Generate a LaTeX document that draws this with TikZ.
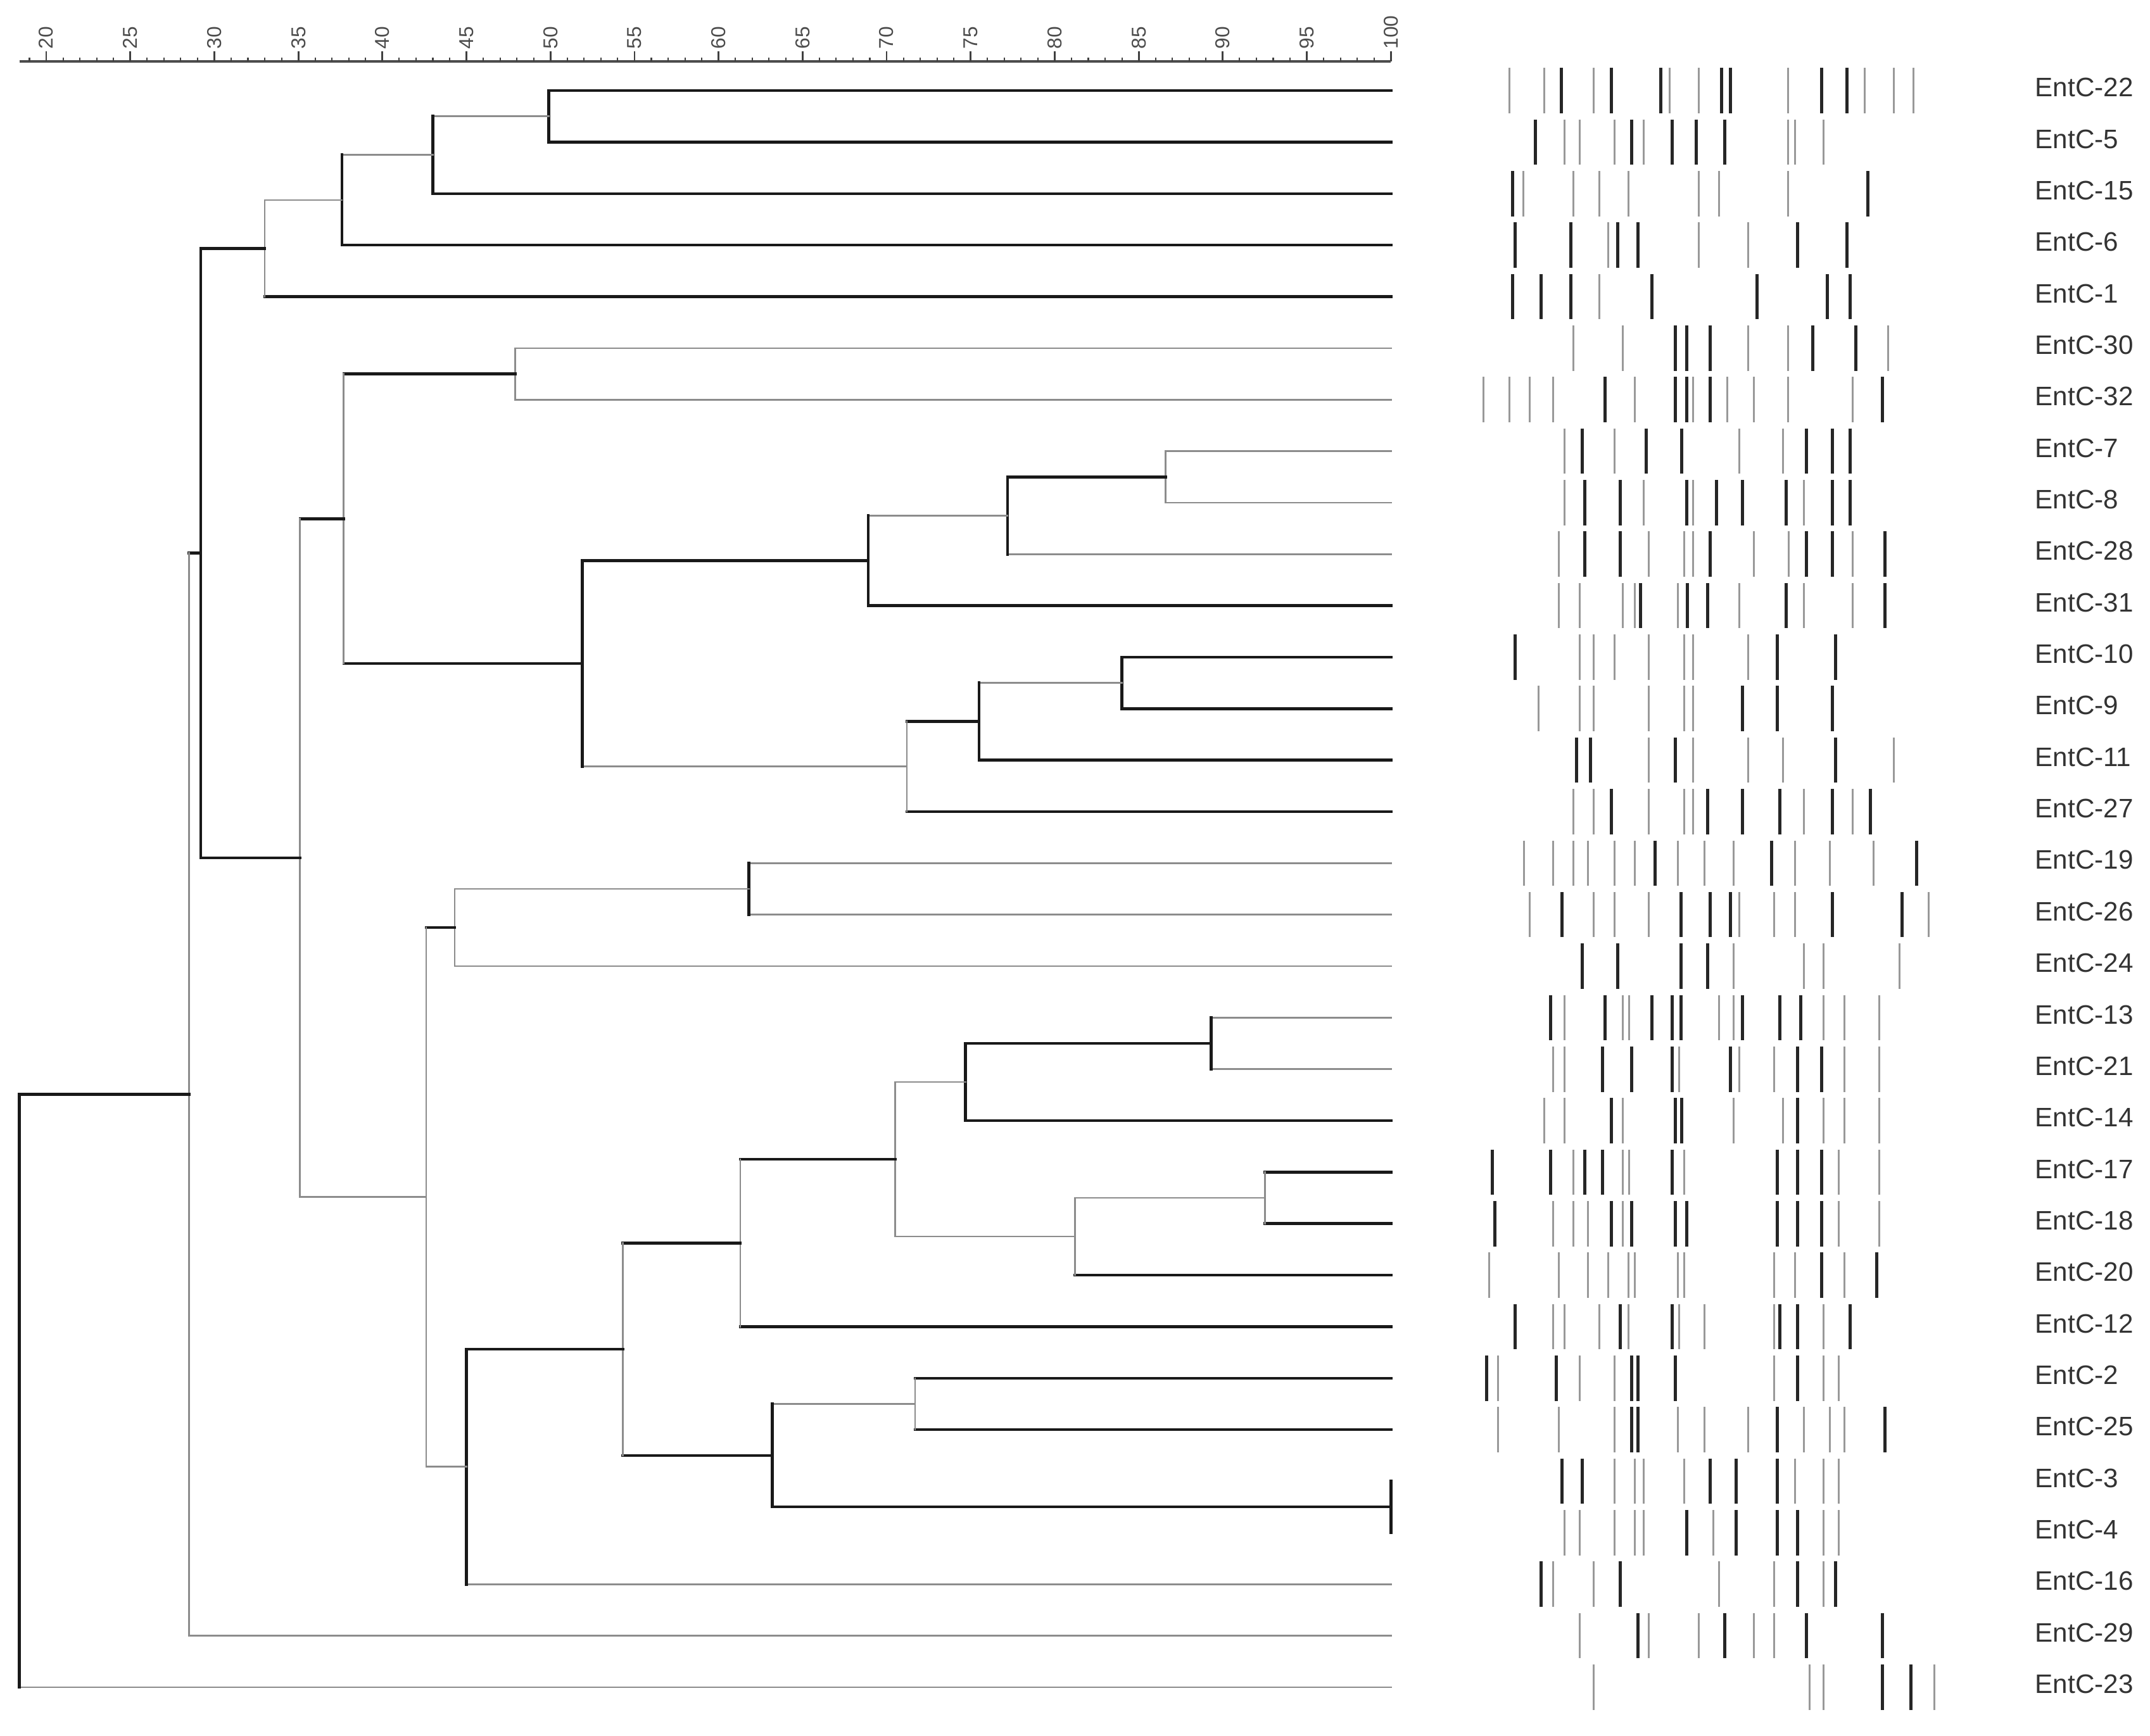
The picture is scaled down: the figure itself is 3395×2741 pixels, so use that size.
\documentclass[tikz,border=0pt]{standalone}
\usepackage{fontspec}
\setmainfont{Liberation Sans}

\begin{document}
\begin{tikzpicture}[
                x=0.01cm, y=-0.01cm,
                darkedge/.style={draw=black!90, line width=1.3pt, line cap=rect},
                paleedge/.style={draw=black!45, line width=0.75pt, line cap=rect},
                darkband/.style={draw=black!85, line width=1.5pt},
                paleband/.style={draw=black!40, line width=0.9pt},
                strain/.style={anchor=west, inner sep=0pt, text=black!80, font=\fontsize{12}{14}\selectfont},
                scalelab/.style={anchor=west, rotate=90, inner sep=0pt, text=black!70, font=\fontsize{9}{10}\selectfont} ]

            \useasboundingbox (0,0) rectangle (3395,2741);

            % similarity scale, x in percent
            \begin{scope}[x=0.26525cm, xshift=-4.575cm]
                \draw[black!70, line width=0.9pt] (18.4,97) -- (100,97);
                \foreach \v in {19,...,100}
                    \draw[black!75, line width=0.6pt] (\v,97) -- (\v,91);
                \foreach \v in {20,25,...,100} {
                        \draw[black!75, line width=0.8pt] (\v,97) -- (\v,81);
                        \node[scalelab] (s\v) at (\v,78) {\v};
                    }

                % dendrogram, y in rows
                \begin{scope}[y=-0.813cm, yshift=-1.43cm]
                    \foreach \n [count=\i from 0] in {22,5,15,6,1,30,32,7,8,28,31,10,9,11,27,19,26,24,13,21,14,17,18,20,12,2,25,3,4,16,29,23}
                        \coordinate (c\n) at (100,\i);

                    \coordinate (nA) at (49.9,0.5);
                    \coordinate (nB) at (43.0,1.25);
                    \coordinate (nC) at (37.6,2.125);
                    \coordinate (nD) at (33.0,3.0625);
                    \coordinate (nE) at (47.9,5.5);
                    \coordinate (nF) at (86.6,7.5);
                    \coordinate (nG) at (77.2,8.25);
                    \coordinate (nH) at (68.9,9.125);
                    \coordinate (nI) at (84.0,11.5);
                    \coordinate (nJ) at (75.5,12.25);
                    \coordinate (nK) at (71.2,13.125);
                    \coordinate (nL) at (51.9,11.125);
                    \coordinate (nM) at (37.7,8.3125);
                    \coordinate (nN) at (61.8,15.5);
                    \coordinate (nO) at (44.3,16.25);
                    \coordinate (nP) at (89.3,18.5);
                    \coordinate (nQ) at (74.7,19.25);
                    \coordinate (nR) at (92.5,21.5);
                    \coordinate (nS) at (81.2,22.25);
                    \coordinate (nT) at (70.5,20.75);
                    \coordinate (nU) at (61.3,22.375);
                    \coordinate (nV) at (71.7,25.5);
                    \coordinate (nW) at (100,27.5);
                    \coordinate (nX) at (63.2,26.5);
                    \coordinate (nY) at (54.3,24.4375);
                    \coordinate (nZ) at (45.0,26.72);
                    \coordinate (nAA) at (42.6,21.48);
                    \coordinate (nAB) at (35.1,14.9);
                    \coordinate (nAC) at (29.2,8.98);
                    \coordinate (nAD) at (28.5,19.49);
                    \coordinate (nAE) at (18.4,25.25);

                    \foreach \p/\a/\b/\v/\s/\t in {
                            nA/c22/c5/darkedge/darkedge/darkedge,
                            nB/nA/c15/darkedge/paleedge/darkedge,
                            nC/nB/c6/darkedge/paleedge/darkedge,
                            nD/nC/c1/paleedge/paleedge/darkedge,
                            nE/c30/c32/paleedge/paleedge/paleedge,
                            nF/c7/c8/paleedge/paleedge/paleedge,
                            nG/nF/c28/darkedge/darkedge/paleedge,
                            nH/nG/c31/darkedge/paleedge/darkedge,
                            nI/c10/c9/darkedge/darkedge/darkedge,
                            nJ/nI/c11/darkedge/paleedge/darkedge,
                            nK/nJ/c27/paleedge/darkedge/darkedge,
                            nL/nH/nK/darkedge/darkedge/paleedge,
                            nM/nE/nL/paleedge/darkedge/darkedge,
                            nN/c19/c26/darkedge/paleedge/paleedge,
                            nO/nN/c24/paleedge/paleedge/paleedge,
                            nP/c13/c21/darkedge/paleedge/paleedge,
                            nQ/nP/c14/darkedge/darkedge/darkedge,
                            nR/c17/c18/paleedge/darkedge/darkedge,
                            nS/nR/c20/paleedge/paleedge/darkedge,
                            nT/nQ/nS/paleedge/paleedge/paleedge,
                            nU/nT/c12/paleedge/darkedge/darkedge,
                            nV/c2/c25/paleedge/darkedge/darkedge,
                            nW/c3/c4/darkedge/darkedge/darkedge,
                            nX/nV/nW/darkedge/paleedge/darkedge,
                            nY/nU/nX/paleedge/darkedge/darkedge,
                            nZ/nY/c16/darkedge/darkedge/paleedge,
                            nAA/nO/nZ/paleedge/darkedge/paleedge,
                            nAB/nM/nAA/paleedge/darkedge/paleedge,
                            nAC/nD/nAB/darkedge/darkedge/darkedge,
                            nAD/nAC/c29/paleedge/darkedge/paleedge,
                            nAE/nAD/c23/darkedge/darkedge/paleedge} {
                            \draw[\s] (\p |- \a) -- (\a);
                            \draw[\t] (\p |- \b) -- (\b);
                            \draw[\v] (\p |- \a) -- (\p |- \b);
                        }
                \end{scope}
            \end{scope}

            % band patterns: row / dark bands / pale bands
            \begin{scope}[xshift=23cm, y=-0.813cm, yshift=-1.43cm]
                \foreach \i/\dk/\pl in {
                        0/{164,243,321,417,431,575,615}/{82,137,215,335,381,522,643,689,720},
                        1/{123,275,339,377,422}/{169,193,248,294,522,533,578},
                        2/{87,648}/{104,183,224,270,381,413,522},
                        3/{91,179,253,285,537,615}/{238,381,459},
                        4/{87,132,179,307,473,584,620}/{224},
                        5/{344,362,399,561,629}/{183,261,459,522,680},
                        6/{233,344,362,399,671}/{41,82,114,151,280,372,426,468,522,624},
                        7/{197,298,354,551,592,620}/{169,248,445,514},
                        8/{201,257,362,409,450,519,592,620}/{169,294,372,547},
                        9/{201,257,399,551,592,675}/{160,302,358,372,468,523,624},
                        10/{289,363,395,519,675}/{160,193,261,280,348,445,547,624},
                        11/{91,505,597}/{193,215,248,302,358,372,459},
                        12/{450,505,592}/{128,193,215,302,358,372},
                        13/{188,210,344,597}/{302,372,459,514,689},
                        14/{243,395,450,509,592,652}/{183,215,302,358,372,547,624},
                        15/{312,496,725}/{105,151,183,206,248,280,348,390,436,533,588,657},
                        16/{165,353,399,431,592,702}/{114,215,248,302,445,500,533,744},
                        17/{197,253,353,395}/{436,547,578,698},
                        18/{147,233,307,339,353,450,509,542}/{169,261,271,413,436,578,611,666},
                        19/{229,275,339,431,537,575}/{151,169,350,445,500,611,666},
                        20/{243,344,354,537}/{137,169,261,436,514,578,611,666},
                        21/{55,147,201,229,339,505,537,575}/{183,261,271,358,602,666},
                        22/{59,243,275,344,362,505,537,575}/{151,183,206,261,602,666},
                        23/{575,662}/{50,160,206,238,270,280,348,358,500,533,611},
                        24/{91,257,339,509,537,620}/{151,169,224,270,350,390,500,578},
                        25/{46,156,275,285,344,537}/{64,193,248,500,578,602},
                        26/{275,285,505,675}/{64,160,248,348,390,459,547,588,611},
                        27/{165,197,399,440,505}/{248,280,294,358,533,578,602},
                        28/{362,440,505,537}/{169,193,248,280,294,404,578,602},
                        29/{132,257,537,597}/{151,215,413,500,578},
                        30/{285,422,551,671}/{193,302,381,468,500},
                        31/{671,716}/{215,556,578,753}} {
                        \foreach \p in \dk
                            \draw[darkband] (\p,\i-0.44) -- (\p,\i+0.44);
                        \foreach \p in \pl
                            \draw[paleband] (\p,\i-0.44) -- (\p,\i+0.44);
                    }
            \end{scope}

            % strain names
            \begin{scope}[y=-0.813cm, yshift=-1.43cm]
                \foreach \n [count=\i from 0] in {22,5,15,6,1,30,32,7,8,28,31,10,9,11,27,19,26,24,13,21,14,17,18,20,12,2,25,3,4,16,29,23}
                    \node[strain] (lab\n) at (3213,\i-0.06) {EntC-\n};
            \end{scope}
        \end{tikzpicture}
\end{document}
